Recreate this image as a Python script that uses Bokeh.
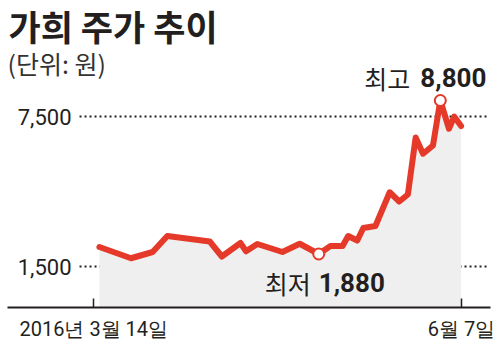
from bokeh.plotting import figure
from bokeh.models import Range1d, FixedTicker, Label
from bokeh.core.properties import value
from bokeh.embed import file_html
from bokeh.resources import INLINE

# ---- data ----
TITLE = "가희 주가 추이"
UNIT = "(단위: 원)"
# days since 2016-03-14
days = [1.3, 8.6, 13.6, 17.0, 26.8, 29.6, 33.9, 35.2, 37.8, 43.6, 47.6, 52.0,
        54.7, 57.5, 58.8, 60.9, 62.3, 65.1, 68.4, 70.6, 72.6, 74.4, 76.1, 78.4,
        80.1, 82.1, 83.3, 84.9]
prices = [2280, 1830, 2080, 2720, 2500, 1900, 2440, 2110, 2400, 2080, 2410, 2000,
          2320, 2320, 2720, 2540, 3040, 3120, 4470, 4100, 4380, 6660, 6010, 6340,
          8140, 7010, 7500, 7120]
x_ticks = [0, 85]
x_tick_labels = ["2016년 3월 14일", "6월 7일"]
y_ticks = [1500, 7500]
y_tick_labels = ["1,500", "7,500"]
min_idx = 11
max_idx = 24
min_words = ["최저", "1,880"]
max_words = ["최고", "8,800"]

# ---- layout / style ----
X0, X1 = -19.95, 91.70
Y0, Y1 = -140, 12140
GX0, GX1 = -3.3, 91.0
RED = "#e5392a"
DARK = "#231f20"
NUM_FONT = value("Roboto")
KR_FONT = value("Noto Sans CJK KR")

p = figure(width=500, height=356, x_range=Range1d(X0, X1), y_range=Range1d(Y0, Y1),
           output_backend="svg", toolbar_location=None,
           x_axis_location="below", y_axis_location=None,
           min_border_left=7, min_border_right=10, min_border_top=0, min_border_bottom=49)
p.outline_line_color = None
p.grid.visible = False

ax = p.xaxis[0]
ax.ticker = FixedTicker(ticks=x_ticks)
ax.major_label_overrides = {t: l for t, l in zip(x_ticks, x_tick_labels)}
ax.axis_line_color = DARK
ax.axis_line_width = 2
ax.major_tick_in = 9
ax.major_tick_out = 0
ax.major_tick_line_color = DARK
ax.major_tick_line_width = 1.5
ax.minor_tick_line_color = None
ax.major_label_text_font = "Roboto"
ax.major_label_text_font_size = "20px"
ax.major_label_text_color = DARK
ax.major_label_standoff = 9

# dotted gridlines
p.segment(x0=GX0, y0=y_ticks, x1=GX1, y1=y_ticks, line_color=DARK,
          line_width=2, line_dash="2 3")
# y labels
p.text(x=[X0] * len(y_ticks), y=y_ticks, text=y_tick_labels, x_offset=64,
       text_align="right", text_baseline="middle", text_font=NUM_FONT,
       text_font_size="22px", text_color=DARK)

# area + line
p.varea(x=days, y1=Y0, y2=prices, fill_color="#efefef")
p.line(days, prices, line_color=RED, line_width=6, line_join="round", line_cap="round")
p.scatter(x=[days[min_idx], days[max_idx]], y=[prices[min_idx], prices[max_idx]],
          size=11, fill_color="white", line_color=RED, line_width=2)

# annotations
p.text(x=[days[max_idx]], y=[prices[max_idx]], text=[max_words[0]], x_offset=-76, y_offset=-23,
       text_baseline="middle", text_font=KR_FONT, text_font_size="25px", text_color=DARK)
p.text(x=[days[max_idx]], y=[prices[max_idx]], text=[max_words[1]], x_offset=-20, y_offset=-23,
       text_baseline="middle", text_font=NUM_FONT, text_font_style="bold",
       text_font_size="26px", text_color=DARK)
p.text(x=[days[min_idx]], y=[prices[min_idx]], text=[min_words[0]], x_offset=-54, y_offset=28.5,
       text_baseline="middle", text_font=KR_FONT, text_font_size="25px", text_color=DARK)
p.text(x=[days[min_idx]], y=[prices[min_idx]], text=[min_words[1]], x_offset=0, y_offset=28.5,
       text_baseline="middle", text_font=NUM_FONT, text_font_style="bold",
       text_font_size="26px", text_color=DARK)

# title and unit
p.add_layout(Label(x=1, y=282.5, x_units="screen", y_units="screen", text=TITLE,
                   text_font="Noto Sans CJK KR", text_font_style="bold",
                   text_font_size="35px", text_color=DARK, text_baseline="middle"))
p.add_layout(Label(x=0, y=244.5, x_units="screen", y_units="screen", text=UNIT,
                   text_font="Noto Sans CJK KR", text_font_size="25px",
                   text_color="#333333", text_baseline="middle"))

open("out.html", "w").write(file_html(p, INLINE))
